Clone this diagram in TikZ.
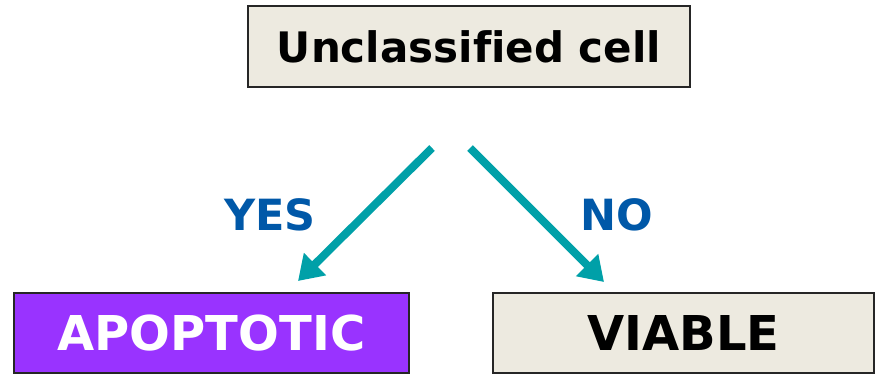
\documentclass[tikz,border=0pt]{standalone}
\usepackage{fontspec}
\setmainfont[Ligatures=NoCommon]{DejaVu Sans}
\usepackage{tikz}
\usetikzlibrary{arrows.meta}
\definecolor{paper}{HTML}{EDEAE0}
\definecolor{violet}{HTML}{9933FF}
\definecolor{teal}{HTML}{00A0A8}
\definecolor{answer}{HTML}{0058A8}
\tikzset{cellbox/.style={
    draw=black!85,
    line width=1.5pt,
    fill=paper,
    inner sep=0pt}}
\tikzset{choice/.style={
    draw=teal,
    line width=8pt,
    -{Triangle[length=24pt,width=30pt]}}}
\tikzset{reply/.style={
    text=answer,
    font=\fontsize{43}{43}\selectfont\bfseries}}

\begin{document}
\begin{tikzpicture}[x=1pt,y=-1pt]
\useasboundingbox (0,0) rectangle (876,374);
\coordinate (yesstart) at (432,148);
\coordinate (nostart) at (470,148);
\coordinate (yesend) at (298,281);
\coordinate (noend) at (604,282);

\node[cellbox,minimum width=442pt,minimum height=81pt] (cell) at (469,46.5)
	{\fontsize{42}{42}\selectfont\bfseries Unclassified cell};
\node[cellbox,fill=violet,minimum width=395pt,minimum height=80pt] (apoptotic) at (211.5,333)
	{\color{white}\fontsize{48}{48}\selectfont\bfseries APOPTOTIC};
\node[cellbox,minimum width=381pt,minimum height=80pt] (viable) at (683.5,333)
	{\fontsize{48}{48}\selectfont\bfseries VIABLE};

\draw[choice] (yesstart) -- (yesend);
\draw[choice] (nostart) -- (noend);

\node[reply] (yes) at (270,215) {YES};
\node[reply] (no) at (617,215) {NO};
\end{tikzpicture}
\end{document}
